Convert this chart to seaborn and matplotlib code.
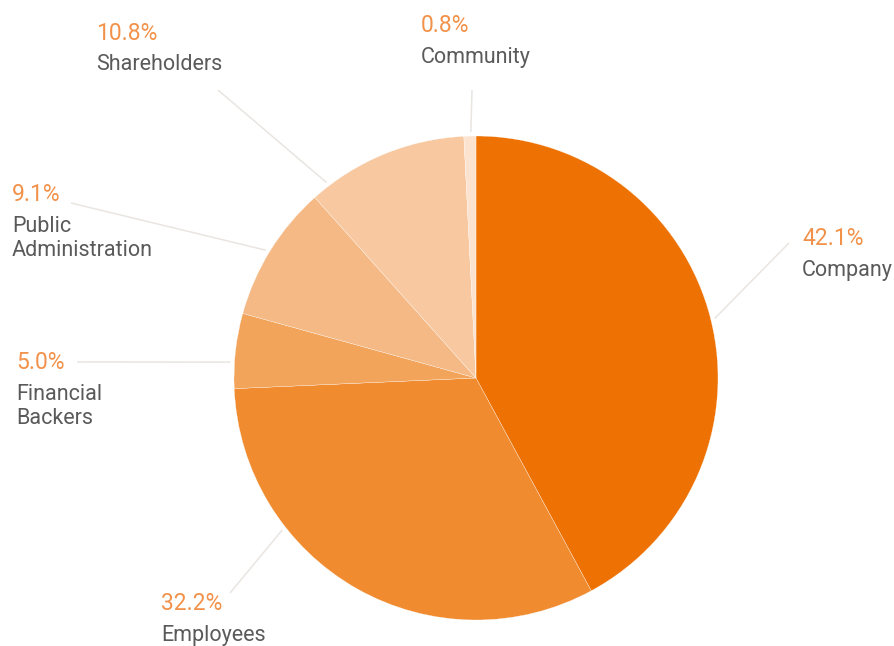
import matplotlib
matplotlib.use("Agg")
import matplotlib.pyplot as plt
import seaborn as sns
import numpy as np

# ---- data ----
categories = ["Company", "Employees", "Financial\nBackers", "Public\nAdministration", "Shareholders", "Community"]
shares = [42.1, 32.2, 5.0, 9.1, 10.8, 0.8]
colors = ["#EE7203", "#F08B2F", "#F3A45B", "#F5B985", "#F8C9A0", "#FCE3CF"]

# ---- layout (pixel positions, y from top) ----
W, H = 895, 646
cx, cy, R = 476, 378, 242
leader_angles = [14.0, -141.9, 176.3, 148.7, 127.4, 91.2]
leader_ends = [(789, 243), (230, 593), (77, 362), (71, 203), (218, 90), (472, 90)]
text_pos = [(802, 239), (161, 603), (16, 363), (12, 195), (96, 33), (421, 25)]

sns.set_theme(style="white")
plt.rcParams["font.family"] = ["Roboto", "DejaVu Sans"]

fig = plt.figure(figsize=(W / 100, H / 100), dpi=100)
ax = fig.add_axes([0, 0, 1, 1])

def Y(y):
    return H - y

ax.pie(shares, colors=colors, startangle=90, counterclock=False,
       center=(cx, Y(cy)), radius=R, frame=True,
       wedgeprops=dict(linewidth=0.2, edgecolor="white"))
ax.set_xlim(0, W)
ax.set_ylim(0, H)
ax.set_aspect("equal")
ax.axis("off")

for i, name in enumerate(categories):
    a = np.deg2rad(leader_angles[i])
    sx = cx + (R + 4) * np.cos(a)
    sy = Y(cy) + (R + 4) * np.sin(a)
    ex, ey = leader_ends[i]
    ax.plot([sx, ex], [sy, Y(ey)], color="#E9E5E1", lw=1.1, solid_capstyle="butt")
    tx, ty = text_pos[i]
    ax.text(tx, Y(ty), f"{shares[i]:.1f}%", color="#F2924A", fontsize=16.5,
            fontweight="normal", ha="left", va="center")
    for j, line in enumerate(name.split("\n")):
        ax.text(tx, Y(ty + 32 + 24 * j), line, color="#5A5A5A", fontsize=15.5,
                fontweight="normal", ha="left", va="center")

fig.savefig("out.png", dpi=100)
